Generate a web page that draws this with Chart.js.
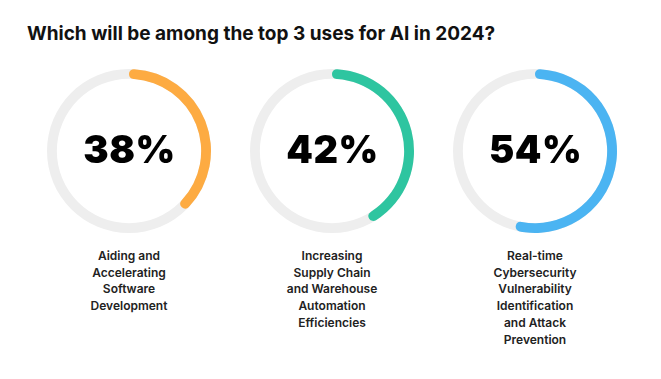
<!DOCTYPE html>
<html>
<head>
<meta charset="utf-8">
<script src="https://cdn.jsdelivr.net/npm/chart.js@4.4.1/dist/chart.umd.min.js"></script>
<style>
  html, body { margin: 0; padding: 0; background: #ffffff; }
  body { width: 661px; height: 379px; position: relative; overflow: hidden; font-family: Inter, "Noto Sans", sans-serif; }
  #title { position: absolute; left: 27px; top: 22px; font-size: 19px; font-weight: 700; color: #111111; white-space: nowrap; letter-spacing: 0px; }
  .ring { position: absolute; width: 170px; height: 170px; top: 66px; }
  .lbl { position: absolute; top: 248px; width: 170px; text-align: center; font-size: 12px; font-weight: 600; line-height: 16.7px; color: #222222; }
</style>
</head>
<body>
<div id="title">Which will be among the top 3 uses for AI in 2024?</div>
<div class="ring" style="left:44px"><canvas id="c0"></canvas></div>
<div class="ring" style="left:247px"><canvas id="c1"></canvas></div>
<div class="ring" style="left:450px"><canvas id="c2"></canvas></div>
<div class="lbl" id="l0" style="left:44px"></div>
<div class="lbl" id="l1" style="left:247px"></div>
<div class="lbl" id="l2" style="left:450px"></div>
<script>
const categories = [
  ["Aiding and", "Accelerating", "Software", "Development"],
  ["Increasing", "Supply Chain", "and Warehouse", "Automation", "Efficiencies"],
  ["Real-time", "Cybersecurity", "Vulnerability", "Identification", "and Attack", "Prevention"]
];
const percentValues = [38, 42, 54];
const ringColors = ["#FDAB42", "#2EC5A0", "#4BB4F2"];
const trackColor = "#EEEEEE";

const trackPlugin = {
  id: 'track',
  beforeDatasetsDraw(chart) {
    const arc = chart.getDatasetMeta(0).data[0];
    if (!arc) return;
    const { x, y, innerRadius, outerRadius } = arc.getProps(['x','y','innerRadius','outerRadius'], true);
    const ctx = chart.ctx;
    ctx.save();
    ctx.beginPath();
    ctx.arc(x, y, outerRadius, 0, Math.PI * 2);
    ctx.arc(x, y, innerRadius, Math.PI * 2, 0, true);
    ctx.closePath();
    ctx.fillStyle = trackColor;
    ctx.fill();
    ctx.restore();
  }
};

const centerTextPlugin = {
  id: 'centerText',
  afterDatasetsDraw(chart, args, opts) {
    const arc = chart.getDatasetMeta(0).data[0];
    if (!arc) return;
    const { x, y } = arc.getProps(['x','y'], true);
    const ctx = chart.ctx;
    ctx.save();
    ctx.font = '900 38px Inter';
    ctx.letterSpacing = '0.5px';
    ctx.fillStyle = '#000000';
    ctx.textAlign = 'center';
    ctx.textBaseline = 'middle';
    ctx.fillText(opts.text, x + 0.5, y + 1);
    ctx.restore();
  }
};

percentValues.forEach((v, i) => {
  document.getElementById('l' + i).innerHTML = categories[i].join('<br>');
  new Chart(document.getElementById('c' + i), {
    type: 'doughnut',
    data: {
      labels: ['value', 'rest'],
      datasets: [{
        data: [v, 100 - v],
        backgroundColor: [ringColors[i], 'rgba(0,0,0,0)'],
        borderWidth: 0,
        borderRadius: [5, 0]
      }]
    },
    options: {
      responsive: true,
      maintainAspectRatio: false,
      animation: false,
      cutout: '88%',
      layout: { padding: 3 },
      events: [],
      plugins: {
        legend: { display: false },
        tooltip: { enabled: false },
        centerText: { text: v + '%' }
      }
    },
    plugins: [trackPlugin, centerTextPlugin]
  });
});
</script>
</body>
</html>
